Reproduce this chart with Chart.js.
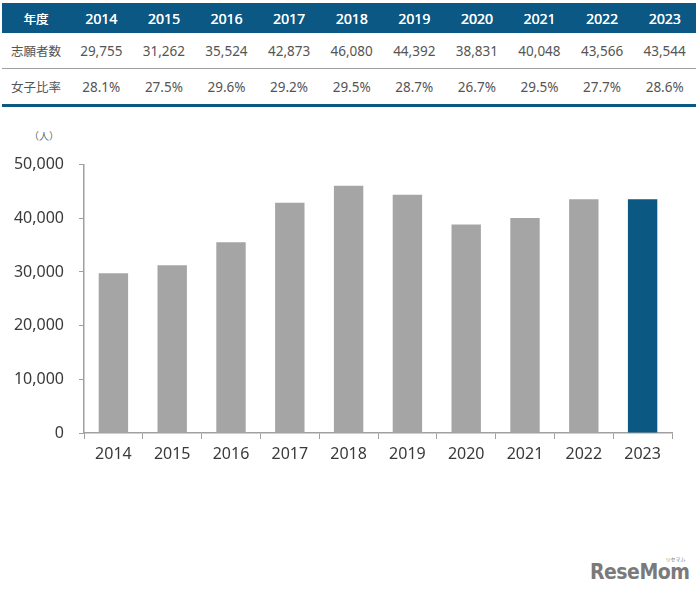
<!DOCTYPE html>
<html>
<head>
<meta charset="utf-8">
<script src="https://cdn.jsdelivr.net/npm/chart.js@4.4.0/dist/chart.umd.min.js"></script>
<style>
  body {
    margin: 0;
    width: 700px;
    height: 600px;
    background: #ffffff;
    font-family: "Noto Sans", "Noto Sans CJK JP", sans-serif;
    position: relative;
    overflow: hidden;
  }
  #summary {
    position: absolute;
    left: 2px;
    top: 3px;
    width: 694px;
    border-collapse: collapse;
    table-layout: fixed;
    border-bottom: 3px solid #0c5884;
  }
  #summary th {
    background: #0c5884;
    color: #ffffff;
    font-weight: normal;
    font-size: 14px;
    height: 30px;
    padding: 0;
    text-shadow: 0.3px 0 0 #ffffff;
  }
  #summary td {
    color: #555555;
    font-size: 13.5px;
    text-align: center;
    height: 35px;
    padding: 0;
  }
  #summary tr.first td {
    border-bottom: 1px solid #a0a0a0;
  }
  #summary .label {
    font-family: "Noto Sans CJK JP", sans-serif;
    font-size: 12.5px;
  }
  #unit {
    position: absolute;
    left: 29px;
    top: 128px;
    font-family: "Noto Sans CJK JP", sans-serif;
    font-size: 10px;
    color: #666666;
  }
  #chart-box {
    position: absolute;
    left: 0;
    top: 140px;
    width: 690px;
    height: 330px;
  }
  #logo {
    position: absolute;
    left: 590px;
    top: 560px;
    font-family: "DejaVu Sans Condensed", "DejaVu Sans", sans-serif;
    font-weight: bold;
    font-size: 21px;
    color: #7a7a7a;
    letter-spacing: -0.5px;
  }
  #logo small {
    position: absolute;
    right: 4px;
    top: -5px;
    font-size: 5px;
    font-family: "Noto Sans CJK JP", sans-serif;
    font-weight: normal;
    letter-spacing: 0;
  }
</style>
</head>
<body>
<table id="summary"></table>
<div id="unit">（人）</div>
<div id="chart-box"><canvas id="applicantChart"></canvas></div>
<div id="logo">ReseMom<small>リセマム</small></div>

<script>
const years = ["2014", "2015", "2016", "2017", "2018", "2019", "2020", "2021", "2022", "2023"];
const applicants = [29755, 31262, 35524, 42873, 46080, 44392, 38831, 40048, 43566, 43544];
const femaleRatio = ["28.1%", "27.5%", "29.6%", "29.2%", "29.5%", "28.7%", "26.7%", "29.5%", "27.7%", "28.6%"];
const yTicks = [0, 10000, 20000, 30000, 40000, 50000];

const grayBar = "#a5a5a5";
const blueBar = "#0b5883";
const axisColor = "#a0a0a0";
const textColor = "#3a3a3a";

// table above the chart
const table = document.getElementById("summary");
let html = '<colgroup><col style="width:68px">';
years.forEach(() => { html += "<col>"; });
html += "</colgroup>";
html += '<tr><th class="label">年度</th>' + years.map((y) => `<th>${y}</th>`).join("") + "</tr>";
html += '<tr class="first"><td class="label">志願者数</td>' +
  applicants.map((v) => `<td>${v.toLocaleString("en-US")}</td>`).join("") + "</tr>";
html += '<tr><td class="label">女子比率</td>' + femaleRatio.map((v) => `<td>${v}</td>`).join("") + "</tr>";
table.innerHTML = html;

const ctx = document.getElementById("applicantChart");

new Chart(ctx, {
  type: "bar",
  data: {
    labels: years,
    datasets: [
      {
        data: applicants,
        backgroundColor: years.map((y, i) => (i === years.length - 1 ? blueBar : grayBar)),
        borderWidth: 0,
        barPercentage: 0.5,
        categoryPercentage: 1,
      },
    ],
  },
  options: {
    responsive: true,
    maintainAspectRatio: false,
    animation: false,
    layout: {
      padding: { top: 13, right: 18, bottom: 0, left: 0 },
    },
    plugins: {
      legend: { display: false },
      tooltip: { enabled: false },
    },
    scales: {
      x: {
        afterFit: (scale) => { scale.height = 37; },
        border: { color: axisColor, width: 1.5 },
        grid: {
          offset: true,
          drawOnChartArea: false,
          color: axisColor,
          tickLength: 6,
        },
        ticks: {
          color: textColor,
          padding: 6,
          font: { family: "Noto Sans", size: 16 },
        },
      },
      y: {
        min: 0,
        max: 50000,
        afterFit: (scale) => { scale.width = 84; },
        afterBuildTicks: (scale) => {
          scale.ticks = yTicks.map((v) => ({ value: v }));
        },
        border: { color: axisColor, width: 1.5 },
        grid: {
          drawOnChartArea: false,
          color: axisColor,
          tickLength: 5,
        },
        ticks: {
          color: textColor,
          padding: 15,
          font: { family: "Noto Sans", size: 16 },
          callback: (v) => v.toLocaleString("en-US"),
        },
      },
    },
  },
});
</script>
</body>
</html>
